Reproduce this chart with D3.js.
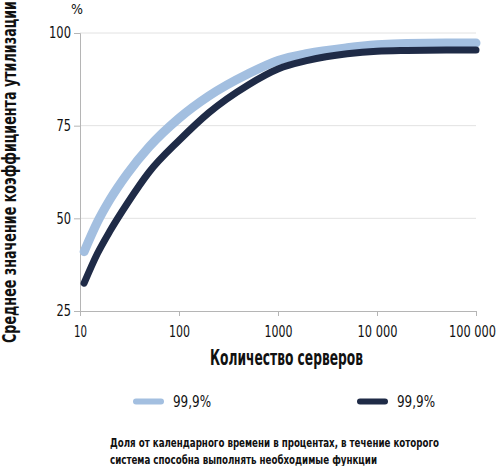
<!DOCTYPE html>
<html>
<head>
<meta charset="utf-8">
<script src="https://cdn.jsdelivr.net/npm/d3@7"></script>
<style>
  body { margin: 0; background: #fff; }
  text { font-family: "DejaVu Sans Condensed", "DejaVu Sans", sans-serif; font-stretch: condensed; fill: #111; }
</style>
</head>
<body>
<div id="container"></div>
<script>
let w = 500;
let h = 466;

// servers and the two curves (%)
let servers = [11, 15, 20, 30, 50, 100, 200, 500, 1000, 2000, 5000, 10000, 20000, 50000, 100000];
let lightValues = [41, 49, 55, 62, 69.3, 77, 83, 89, 92.6, 94.5, 96, 96.8, 97.2, 97.3, 97.3];
let darkValues = [32.5, 40.5, 46.5, 54, 62.5, 71, 78.5, 86, 90.3, 92.6, 94.4, 95.1, 95.3, 95.4, 95.4];
let xTicks = [10, 100, 1000, 10000, 100000];
let xTickLabels = ["10", "100", "1000", "10 000", "100 000"];
let yTicks = [25, 50, 75, 100];
let legendLabels = ["99,9%", "99,9%"];
let lightColor = "#a3bfe0";
let darkColor = "#1f2b47";

let viz = d3.select("#container").append("svg")
  .attr("width", w)
  .attr("height", h);

let x = d3.scaleLog().domain([10, 100000]).range([80, 476]);
let y = d3.scaleLinear().domain([25, 100]).range([311, 33]);

// squeeze a text to the width it has in the picture
function fit(sel, len){
  sel.attr("textLength", len).attr("lengthAdjust", "spacingAndGlyphs");
}

// gridlines
viz.selectAll(".grid").data(yTicks.filter(d => d > 25)).enter()
  .append("line")
  .attr("x1", 80).attr("x2", 476)
  .attr("y1", d => y(d)).attr("y2", d => y(d))
  .attr("stroke", "#e2e2e2").attr("stroke-width", 1);

// y axis
let yAxis = d3.axisLeft(y).tickValues(yTicks).tickSize(6).tickPadding(3);
let yG = viz.append("g").attr("transform", "translate(80,0)").call(yAxis);
yG.select(".domain").attr("stroke", "#b5b5b5");
yG.selectAll(".tick line").attr("stroke", "#b5b5b5");
yG.selectAll("text").attr("font-size", 15.5).attr("fill", "#111")
  .attr("font-family", null)
  .each(function(d){ fit(d3.select(this), d == 100 ? 22 : 14.5); });

// x axis
let xAxis = d3.axisBottom(x).tickValues(xTicks).tickFormat((d, i) => xTickLabels[i])
  .tickSize(5).tickPadding(6).tickSizeOuter(0);
let xG = viz.append("g").attr("transform", "translate(0,311)").call(xAxis);
xG.select(".domain").attr("stroke", "#b5b5b5");
xG.selectAll(".tick line").attr("stroke", "#b5b5b5");
let xLabelWidths = [13, 21, 28, 40, 47];
xG.selectAll("text").attr("font-size", 15).attr("fill", "#111")
  .attr("font-family", null)
  .attr("y", 26).attr("dy", 0)
  .each(function(d, i){ fit(d3.select(this), xLabelWidths[i]); });
// last label is pulled in so it stays inside the frame
xG.selectAll("text").filter(d => d == 100000).attr("dx", -4);

// lines
let lineMaker = d3.line()
  .x((d, i) => x(servers[i]))
  .y(d => y(d))
  .curve(d3.curveMonotoneX);

viz.append("path")
  .attr("d", lineMaker(lightValues))
  .attr("fill", "none")
  .attr("stroke", lightColor)
  .attr("stroke-width", 9)
  .attr("stroke-linecap", "round");

viz.append("path")
  .attr("d", lineMaker(darkValues))
  .attr("fill", "none")
  .attr("stroke", darkColor)
  .attr("stroke-width", 7)
  .attr("stroke-linecap", "round");

// titles
viz.append("text").attr("x", 77).attr("y", 14).attr("text-anchor", "middle")
  .attr("font-size", 14).text("%");

viz.append("text").attr("x", 210).attr("y", 365)
  .attr("font-size", 21).attr("font-weight", "bold").text("Количество серверов")
  .call(fit, 153);

viz.append("text")
  .attr("transform", "translate(16,343) rotate(-90)")
  .attr("font-size", 19).attr("font-weight", "bold")
  .text("Среднее значение коэффициента утилизации")
  .call(fit, 342);

// legend
let legendX = [133, 357];
let legendColors = [lightColor, darkColor];
legendLabels.forEach(function(lab, i){
  viz.append("line")
    .attr("x1", legendX[i] + 3).attr("x2", legendX[i] + 28)
    .attr("y1", 401.5).attr("y2", 401.5)
    .attr("stroke", legendColors[i]).attr("stroke-width", 6)
    .attr("stroke-linecap", "round");
  viz.append("text")
    .attr("x", legendX[i] + 40).attr("y", 407)
    .attr("font-size", 16).text(lab)
    .call(fit, 38);
});

// caption
viz.append("text").attr("x", 110).attr("y", 447).attr("font-size", 13)
  .attr("font-weight", "bold").attr("fill", "#222")
  .text("Доля от календарного времени в процентах, в течение которого")
  .call(fit, 329);
viz.append("text").attr("x", 110).attr("y", 464).attr("font-size", 13)
  .attr("font-weight", "bold").attr("fill", "#222")
  .text("система способна выполнять необходимые функции")
  .call(fit, 267);
</script>
</body>
</html>
